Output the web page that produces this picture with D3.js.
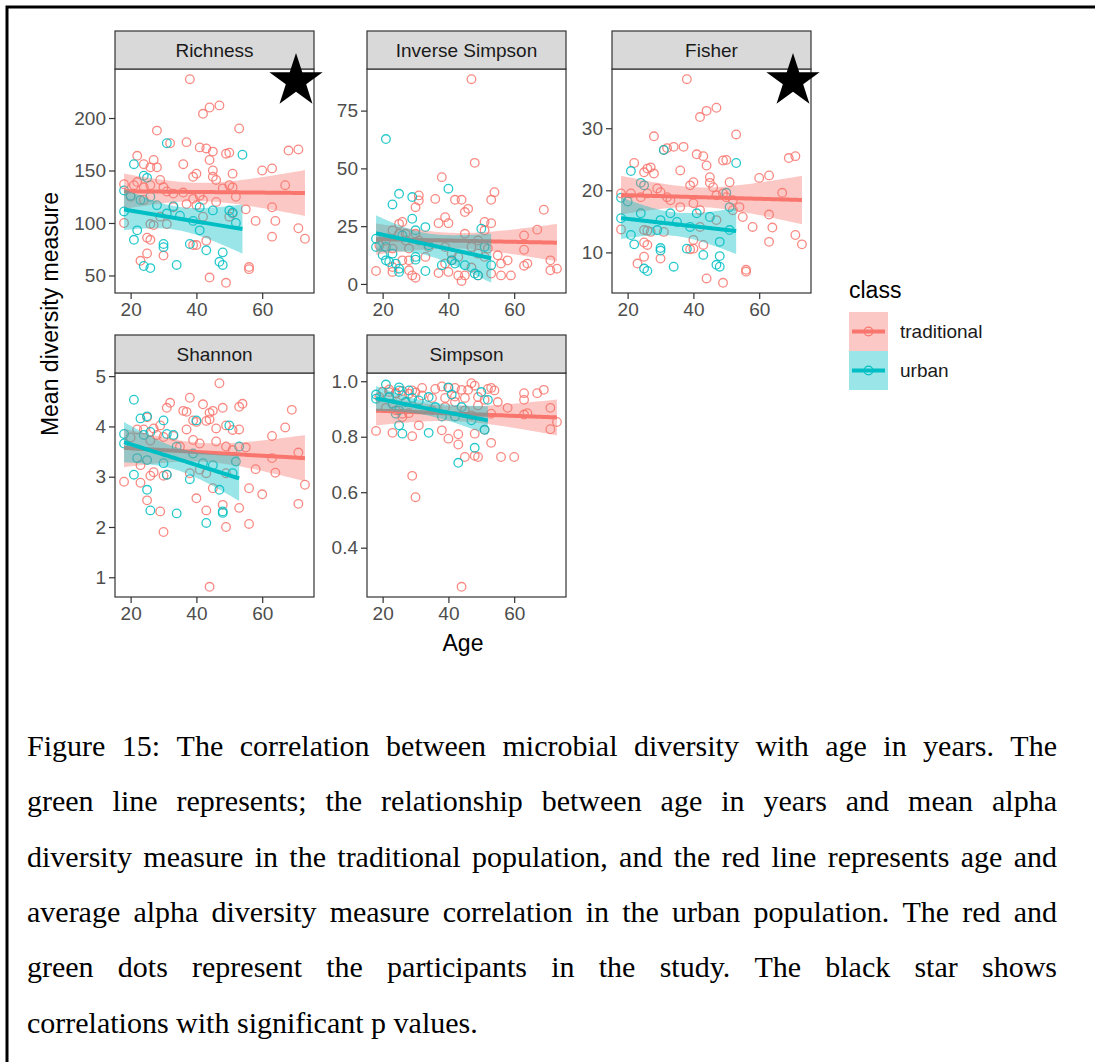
<!DOCTYPE html>
<html>
<head>
<meta charset="utf-8">
<script src="https://cdn.jsdelivr.net/npm/d3@7"></script>
<style>
body { margin: 0; background: #fff; }
svg { display: block; }
</style>
</head>
<body>
<script>
// values: [age, value]
var richnessTraditional = [[38,237],[42,204],[44,210],[47,212],[53,190],[28,188],[32,176],[37,177],[41,172],[43,171],[45,168],[44,160],[49,166],[50,167],[22,164],[68,169],[71,170],[24,156],[27,160],[28,153],[26,153],[36,156],[39,144],[40,147],[45,150],[45,144],[46,141],[51,147],[60,150],[63,152],[67,136],[18,137],[21,136],[22,139],[24,134],[26,136],[29,141],[30,134],[31,130],[33,128],[36,129],[39,123],[41,126],[42,122],[46,120],[48,133],[50,136],[51,134],[52,125],[55,113],[18,100],[25,86],[26,84],[23,64],[25,71],[30,69],[39,79],[40,79],[43,83],[44,48],[49,43],[56,58],[56,56],[58,102],[63,115],[64,102],[63,87],[71,95],[73,85],[26,99],[27,98],[31,99],[29,106],[42,106],[50,106],[51,109],[20,125],[24,122],[33,115],[37,118],[40,117]];
var richnessUrban = [[31,176],[21,156],[24,145],[25,143],[54,165],[18,131],[18,111],[22,93],[21,84],[24,59],[26,57],[30,80],[30,77],[34,60],[38,80],[43,74],[47,63],[48,60],[48,72],[33,116],[35,107],[39,102],[41,93],[45,112],[50,112],[20,126],[23,122],[26,125],[28,117],[31,109],[41,115],[52,100],[51,110]];

var invSimpsonTraditional = [[47,88.6],[48,52.4],[38,46.2],[54,39.7],[53,36.4],[36,36.8],[31,38.3],[31,36.1],[42,36.4],[44,36.4],[45,31.1],[46,32.5],[30,33.2],[69,32.1],[67,23.5],[51,26.8],[53,26.3],[37,26.3],[39,28.9],[40,26.3],[45,21.7],[49,18.8],[51,23.2],[23,23.2],[25,26],[26,26.8],[27,21.7],[63,21],[63,14.8],[64,8.8],[63,7.9],[55,12.4],[56,8.8],[58,10.2],[59,3.7],[56,3.7],[53,4.5],[71,10.2],[71,5.9],[73,6.6],[18,5.6],[23,5.2],[23,7.3],[29,3.7],[30,2.7],[28,5.9],[37,4.7],[40,5.2],[43,3.7],[44,1.3],[45,3.7],[47,7.1],[49,3.7],[19,16.7],[21,18.8],[23,15.3],[28,15.3],[31,18.8],[34,16],[39,16],[41,13.1],[43,11.7],[47,16],[49,13.1],[51,11.7],[52,15.3],[26,10.2],[28,10.2],[39,8.8],[41,10.2],[25,21.7],[27,18.8],[30,21.7],[33,11.7]];
var invSimpsonUrban = [[21,62.7],[25,39],[23,34.4],[29,37.6],[29,28.2],[33,24.6],[40,41.2],[30,23.2],[30,11.7],[30,10.5],[50,23.9],[18,19.6],[18,16],[21,16],[21,10.2],[23,13.1],[24,8.8],[25,6.6],[25,5.2],[33,5.6],[38,8.1],[45,8.1],[48,4.5],[49,3.7],[53,8.1],[34,16.7],[41,10.2],[42,8.8],[51,16],[26,21],[20,12.5],[22,9.5]];

var fisherTraditional = [[38,37.9],[42,31.8],[44,32.8],[47,33.3],[53,29],[28,28.7],[34,27],[31,26.5],[32,26.8],[37,27],[41,25.8],[43,25.5],[44,24],[49,24.8],[50,24.9],[69,25.2],[71,25.5],[22,24.4],[26,23.5],[27,23.7],[28,22.7],[25,22.9],[36,23.2],[39,20.8],[40,21.3],[45,22.1],[45,21.2],[46,20.5],[51,21.3],[60,22],[63,22.4],[67,19.6],[18,19.5],[21,19.5],[24,18.9],[26,19.5],[29,20.3],[30,19.7],[32,18.9],[33,18.4],[36,17.3],[40,17.9],[42,16.8],[47,19.2],[49,19.5],[50,18.9],[52,18.4],[54,17.3],[55,15.7],[18,13.7],[25,13.6],[26,13.5],[27,13.3],[31,13.3],[40,12],[43,11.2],[25,11.6],[26,11.2],[25,9.3],[23,8.2],[30,9],[39,10.5],[40,10.6],[44,5.8],[49,5.1],[56,7.2],[56,6.9],[58,14.1],[63,16.1],[64,14],[63,11.7],[71,12.8],[73,11.3],[42,14.1],[47,15.2],[52,16.8]];
var fisherUrban = [[31,26.5],[21,23.1],[24,21.2],[25,20.8],[53,24.4],[18,18.8],[18,15.5],[21,12.8],[22,11.3],[25,7.4],[26,7],[30,10.7],[30,10.3],[34,7.7],[38,10.6],[43,9.6],[47,8],[48,9.4],[48,7.7],[24,16.3],[30,15.2],[33,16.3],[35,14.9],[41,16.3],[45,15.7],[50,19.6],[51,17.3],[29,13.6],[39,14.1],[48,11.7],[51,13.6],[20,18.2]];

var shannonTraditional = [[47,4.86],[38,4.57],[32,4.47],[31,4.37],[36,4.31],[37,4.29],[42,4.44],[44,4.27],[45,4.31],[48,4.37],[53,4.39],[54,4.45],[69,4.33],[22,3.94],[24,3.94],[25,4.18],[27,3.96],[29,4.02],[28,3.83],[30,3.79],[33,3.81],[37,3.94],[39,4.12],[40,4.09],[43,4.11],[44,4.14],[46,3.96],[49,4.02],[51,3.93],[53,3.94],[63,3.81],[67,3.98],[39,3.73],[41,3.66],[46,3.7],[49,3.6],[51,3.53],[55,3.58],[63,3.37],[71,3.48],[18,2.9],[23,2.88],[23,3.23],[26,3.02],[27,3.09],[30,3.02],[31,3.04],[38,3.07],[25,2.53],[29,2.31],[30,1.9],[40,2.57],[43,2.33],[45,2.77],[48,2.44],[49,2],[53,2.38],[56,2.06],[56,2.77],[60,2.65],[58,3.15],[64,3.08],[71,2.46],[73,2.84],[44,0.81],[41,3.14],[43,3.07],[49,3.07],[35,3.6],[20,3.78],[26,3.72]];
var shannonUrban = [[21,4.53],[23,4.16],[25,4.2],[30,4.12],[18,3.85],[18,3.66],[24,3.83],[26,3.89],[31,3.85],[33,3.83],[40,4.12],[50,4.02],[53,3.6],[21,3.04],[25,2.74],[26,2.33],[34,2.27],[38,2.95],[43,2.08],[47,2.74],[48,2.31],[48,2.28],[30,3.27],[31,3.04],[22,3.37],[25,3.33],[42,3.27],[45,3.23],[51,3.07],[52,3.3],[34,3.6],[39,3.46]];

var simpsonTraditional = [[44,0.259],[29,0.659],[30,0.582],[18,0.821],[23,0.814],[26,0.871],[29,0.802],[31,0.841],[38,0.823],[40,0.793],[43,0.809],[43,0.772],[45,0.727],[48,0.811],[48,0.731],[49,0.727],[51,0.825],[53,0.778],[56,0.727],[60,0.727],[55,0.925],[58,0.904],[63,0.957],[63,0.933],[63,0.88],[64,0.885],[67,0.957],[69,0.969],[71,0.904],[71,0.827],[73,0.853],[54,0.967],[53,0.976],[52,0.972],[47,0.993],[48,0.984],[46,0.969],[42,0.976],[44,0.969],[40,0.976],[38,0.981],[36,0.972],[32,0.976],[29,0.967],[22,0.961],[24,0.955],[26,0.949],[32,0.949],[35,0.94],[39,0.94],[42,0.945],[45,0.94],[49,0.943],[51,0.933],[21,0.904],[24,0.895],[26,0.883],[28,0.885],[39,0.907],[42,0.925],[45,0.895],[47,0.877],[49,0.913],[53,0.883],[35,0.895],[19,0.943],[20,0.962],[22,0.97],[24,0.958],[26,0.965],[28,0.955],[30,0.96]];
var simpsonUrban = [[21,0.988],[25,0.978],[18,0.952],[18,0.937],[22,0.943],[25,0.967],[28,0.967],[29,0.94],[31,0.931],[34,0.943],[40,0.978],[41,0.952],[50,0.961],[52,0.933],[25,0.841],[26,0.811],[34,0.814],[38,0.873],[42,0.873],[47,0.859],[48,0.76],[43,0.706],[51,0.825],[23,0.919],[25,0.895],[27,0.925],[36,0.907],[44,0.907],[24,0.883]];

var measures = ["Richness", "Inverse Simpson", "Fisher", "Shannon", "Simpson"];
var classes = ["traditional", "urban"];
var classColors = ["#F8766D", "#00BFC4"];
var ageTicks = [20, 40, 60];
var richnessTicks = [50, 100, 150, 200];
var invSimpsonTicks = [0, 25, 50, 75];
var fisherTicks = [10, 20, 30];
var shannonTicks = [1, 2, 3, 4, 5];
var simpsonTicks = [0.4, 0.6, 0.8, 1.0];
var significant = ["Richness", "Fisher"];

var captionLines = [
  "Figure 15: The correlation between microbial diversity with age in years. The",
  "green line represents; the relationship between age in years and mean alpha",
  "diversity measure in the traditional population, and the red line represents age and",
  "average alpha diversity measure correlation in the urban population. The red and",
  "green dots represent the participants in the study. The black star shows",
  "correlations with significant p values."
];

var panels = [
  {name: measures[0], groups: [richnessTraditional, richnessUrban], ticks: richnessTicks, fmt: d3.format("d")},
  {name: measures[1], groups: [invSimpsonTraditional, invSimpsonUrban], ticks: invSimpsonTicks, fmt: d3.format("d")},
  {name: measures[2], groups: [fisherTraditional, fisherUrban], ticks: fisherTicks, fmt: d3.format("d")},
  {name: measures[3], groups: [shannonTraditional, shannonUrban], ticks: shannonTicks, fmt: d3.format("d")},
  {name: measures[4], groups: [simpsonTraditional, simpsonUrban], ticks: simpsonTicks, fmt: d3.format(".1f")}
];

var W = 1095, H = 1062;
var sans = "'Liberation Sans', Arial, Helvetica, sans-serif";
var colX = [115, 367, 612], rowY = [31, 335];
var pw = 199, ph = 224, stripH = 38;
var fs = 19;

var svg = d3.select("body").append("svg").attr("width", W).attr("height", H);
svg.append("rect").attr("width", W).attr("height", H).attr("fill", "#fff");
svg.append("rect").attr("x", 7).attr("y", 7).attr("width", W + 20).attr("height", H + 20)
  .attr("fill", "none").attr("stroke", "#000").attr("stroke-width", 3);

// shared x scale (ggplot style 5% expansion)
var allAges = [];
panels.forEach(function(p){ p.groups.forEach(function(g){ g.forEach(function(d){ allAges.push(d[0]); }); }); });
var ageExt = d3.extent(allAges), ageSpan = ageExt[1] - ageExt[0];
var x = d3.scaleLinear().domain([ageExt[0] - 0.05 * ageSpan, ageExt[1] + 0.05 * ageSpan]).range([0, pw]);

function tq(df) {
  var z = 1.959964;
  return z + (z*z*z + z) / (4*df) + (5*Math.pow(z,5) + 16*z*z*z + 3*z) / (96*df*df);
}

// lm fit with 95% confidence band, like geom_smooth(method = "lm")
function lmFit(pts) {
  var n = pts.length;
  var mx = d3.mean(pts, function(d){ return d[0]; }), my = d3.mean(pts, function(d){ return d[1]; });
  var sxx = d3.sum(pts, function(d){ return (d[0]-mx)*(d[0]-mx); });
  var sxy = d3.sum(pts, function(d){ return (d[0]-mx)*(d[1]-my); });
  var b = sxy / sxx, a = my - b * mx;
  var sse = d3.sum(pts, function(d){ var r = d[1] - (a + b*d[0]); return r*r; });
  var s = Math.sqrt(sse / (n - 2)), t = tq(n - 2);
  var ext = d3.extent(pts, function(d){ return d[0]; });
  return d3.range(80).map(function(i){
    var xv = ext[0] + (ext[1] - ext[0]) * i / 79;
    var yv = a + b * xv;
    var se = s * Math.sqrt(1/n + (xv-mx)*(xv-mx)/sxx);
    return {x: xv, y: yv, lo: yv - t*se, hi: yv + t*se};
  });
}

panels.forEach(function(p, i){
  var px = colX[i % 3], py = rowY[Math.floor(i / 3)];
  var top = py + stripH;
  var g = svg.append("g").attr("transform", "translate(" + px + "," + top + ")");

  var fits = p.groups.map(lmFit);
  var vals = [];
  p.groups.forEach(function(gr){ gr.forEach(function(d){ vals.push(d[1]); }); });
  fits.forEach(function(f){ f.forEach(function(d){ vals.push(d.lo, d.hi); }); });
  var ext = d3.extent(vals), span = ext[1] - ext[0];
  var y = d3.scaleLinear().domain([ext[0] - 0.05*span, ext[1] + 0.05*span]).range([ph, 0]);

  g.append("rect").attr("width", pw).attr("height", ph).attr("fill", "#fff");

  // points
  p.groups.forEach(function(gr, k){
    g.selectAll("circle.c" + k).data(gr).enter().append("circle")
      .attr("class", "c" + k)
      .attr("cx", function(d){ return x(d[0]); })
      .attr("cy", function(d){ return y(d[1]); })
      .attr("r", 4.3)
      .attr("fill", "none")
      .attr("stroke", classColors[k])
      .attr("stroke-opacity", 0.85)
      .attr("stroke-width", 1.3);
  });

  // smooth: ribbon then line per group
  fits.forEach(function(f, k){
    g.append("path").datum(f)
      .attr("fill", classColors[k]).attr("fill-opacity", 0.4)
      .attr("d", d3.area().x(function(d){ return x(d.x); }).y0(function(d){ return y(d.lo); }).y1(function(d){ return y(d.hi); }));
    g.append("path").datum(f)
      .attr("fill", "none").attr("stroke", classColors[k]).attr("stroke-width", 4)
      .attr("d", d3.line().x(function(d){ return x(d.x); }).y(function(d){ return y(d.y); }));
  });

  g.append("rect").attr("width", pw).attr("height", ph)
    .attr("fill", "none").attr("stroke", "#333").attr("stroke-width", 1.2);

  // strip
  svg.append("rect").attr("x", px).attr("y", py).attr("width", pw).attr("height", stripH)
    .attr("fill", "#D9D9D9").attr("stroke", "#333").attr("stroke-width", 1.2);
  svg.append("text").attr("x", px + pw/2).attr("y", py + stripH/2).attr("dy", "0.35em")
    .attr("text-anchor", "middle").attr("font-family", sans).attr("font-size", fs)
    .attr("fill", "#1A1A1A").text(p.name);

  // axes
  var ya = g.append("g").call(d3.axisLeft(y).tickValues(p.ticks).tickFormat(p.fmt).tickSize(6).tickPadding(3));
  var xa = g.append("g").attr("transform", "translate(0," + ph + ")")
    .call(d3.axisBottom(x).tickValues(ageTicks).tickSize(6).tickPadding(4));
  [ya, xa].forEach(function(a){
    a.select(".domain").remove();
    a.selectAll(".tick line").attr("stroke", "#333").attr("stroke-width", 1.2);
    a.selectAll(".tick text").attr("font-family", sans).attr("font-size", fs).attr("fill", "#4D4D4D");
  });

  if (significant.indexOf(p.name) >= 0) {
    svg.append("path")
      .attr("transform", "translate(" + (px + pw - 18) + ",81)")
      .attr("d", d3.symbol().type(d3.symbolStar).size(880)())
      .attr("fill", "#000");
  }
});

// axis titles
svg.append("text").attr("transform", "translate(50,314) rotate(-90)").attr("dy", "0.35em")
  .attr("text-anchor", "middle").attr("font-family", sans).attr("font-size", 23).attr("fill", "#000")
  .text("Mean diversity measure");
svg.append("text").attr("x", 463).attr("y", 651)
  .attr("text-anchor", "middle").attr("font-family", sans).attr("font-size", 23).attr("fill", "#000")
  .text("Age");

// legend
var lg = svg.append("g").attr("transform", "translate(849,0)");
lg.append("text").attr("x", 0).attr("y", 298).attr("font-family", sans).attr("font-size", 23)
  .attr("fill", "#000").text("class");
classes.forEach(function(c, k){
  var ky = 312 + k * 39;
  lg.append("rect").attr("x", 0).attr("y", ky).attr("width", 39).attr("height", 39)
    .attr("fill", classColors[k]).attr("fill-opacity", 0.4);
  lg.append("line").attr("x1", 3).attr("x2", 36).attr("y1", ky + 19.5).attr("y2", ky + 19.5)
    .attr("stroke", classColors[k]).attr("stroke-width", 4);
  lg.append("circle").attr("cx", 19.5).attr("cy", ky + 19.5).attr("r", 4.3)
    .attr("fill", "none").attr("stroke", classColors[k]).attr("stroke-width", 1.3);
  lg.append("text").attr("x", 51).attr("y", ky + 19.5).attr("dy", "0.35em")
    .attr("font-family", sans).attr("font-size", fs).attr("fill", "#1A1A1A").text(c);
});

// caption, justified word by word
var capLeft = 27, capRight = 1057, capTop = 756, capStep = 55.3;
var cap = svg.append("g").attr("font-family", "'Liberation Serif', 'Times New Roman', serif")
  .attr("font-size", 30).attr("fill", "#000");
captionLines.forEach(function(line, li){
  var words = line.split(" ");
  var yy = capTop + li * capStep;
  var nodes = words.map(function(w){
    return cap.append("text").attr("y", yy).text(w);
  });
  var widths = nodes.map(function(n){ return n.node().getComputedTextLength(); });
  var total = d3.sum(widths);
  var gap;
  if (li < captionLines.length - 1) {
    gap = (capRight - capLeft - total) / (words.length - 1);
  } else {
    var sp = cap.append("text").text("a a");
    var spW = sp.node().getComputedTextLength();
    var aa = cap.append("text").text("aa");
    spW -= aa.node().getComputedTextLength();
    sp.remove(); aa.remove();
    gap = spW;
  }
  var cx = capLeft;
  nodes.forEach(function(n, wi){
    n.attr("x", cx);
    cx += widths[wi] + gap;
  });
});
</script>
</body>
</html>
